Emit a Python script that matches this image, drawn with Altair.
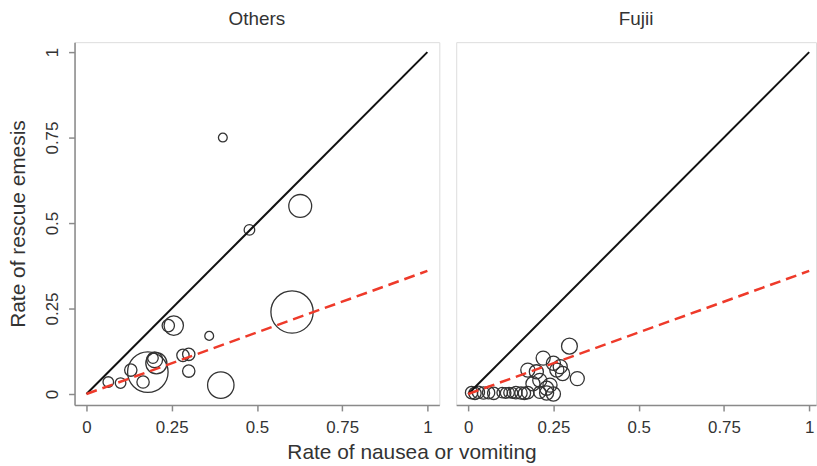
import altair as alt
import pandas as pd

# ---- data ----
others_x = [0.40, 0.478, 0.627, 0.603, 0.394, 0.36, 0.24, 0.256, 0.18, 0.195, 0.20, 0.205,
            0.13, 0.166, 0.10, 0.064, 0.283, 0.30, 0.30]
others_y = [0.75, 0.48, 0.55, 0.24, 0.026, 0.17, 0.20, 0.20, 0.064, 0.105, 0.10, 0.09,
            0.07, 0.035, 0.032, 0.035, 0.113, 0.116, 0.067]
others_n = [25, 36, 169, 576, 225, 25, 49, 121, 529, 36, 81, 144,
            49, 49, 36, 36, 49, 49, 49]

fujii_x = [0.01, 0.02, 0.03, 0.045, 0.06, 0.075, 0.10, 0.11, 0.12, 0.13, 0.14, 0.155,
           0.165, 0.175, 0.21, 0.23, 0.25,
           0.175, 0.20, 0.21, 0.22, 0.25, 0.24, 0.26, 0.277, 0.297, 0.32, 0.19, 0.23, 0.27]
fujii_y = [0.004, 0.002, 0.005, 0.003, 0.004, 0.002, 0.004, 0.003, 0.004, 0.003, 0.004, 0.003,
           0.002, 0.004, 0.005, 0.003, 0.0,
           0.07, 0.065, 0.04, 0.105, 0.09, 0.026, 0.07, 0.06, 0.14, 0.045, 0.03, 0.017, 0.08]
fujii_n = [49, 49, 49, 49, 49, 49, 36, 36, 36, 36, 49, 49,
           49, 49, 49, 64, 64,
           64, 64, 64, 64, 64, 64, 64, 64, 81, 64, 64, 64, 64]

identity_x = [0, 1]
identity_y = [0, 1]
fit_x = [0, 1]
fit_y = [0, 0.36]

tick_vals = [0, 0.25, 0.5, 0.75, 1]

FONT = "Liberation Sans"
TXT = "#333333"
AX = "#8a8a8a"

dom_left = [-0.035, 1.035]
dom_right = [-0.035, 1.02]
ydom = [-0.032, 1.029]

pts_others = pd.DataFrame({"x": others_x, "y": others_y, "n": others_n})
pts_fujii = pd.DataFrame({"x": fujii_x, "y": fujii_y, "n": fujii_n})
ident = pd.DataFrame({"x": identity_x, "y": identity_y})
fit = pd.DataFrame({"x": fit_x, "y": fit_y})


def panel(df, title, show_y, width, dom):
    xenc = alt.X("x:Q", scale=alt.Scale(domain=dom, nice=False, zero=False),
                 axis=alt.Axis(values=tick_vals, format=".2~f", title=None, grid=False,
                               domainColor=AX, tickColor=AX, tickSize=6,
                               labelFontSize=17, labelColor=TXT, labelFont=FONT,
                               labelPadding=9, domainWidth=1.5, tickWidth=1.5))
    if show_y:
        yaxis = alt.Axis(values=tick_vals, format=".2~f", title="Rate of rescue emesis",
                         grid=False, domainColor=AX, tickColor=AX, tickSize=6,
                         labelFontSize=17, labelColor=TXT, labelFont=FONT,
                         labelAngle=270, labelAlign="center", labelBaseline="bottom",
                         labelPadding=7, titleFontSize=21, titleFont=FONT,
                         titleColor=TXT, titleFontWeight="normal", titlePadding=15,
                         domainWidth=1.5, tickWidth=1.5)
    else:
        yaxis = None
    yenc = alt.Y("y:Q", scale=alt.Scale(domain=ydom, nice=False, zero=False), axis=yaxis)

    line1 = alt.Chart(ident).mark_line(color="#111111", strokeWidth=2).encode(x=xenc, y=yenc)
    line2 = alt.Chart(fit).mark_line(color="#ee3a2a", strokeWidth=2.5,
                                     strokeDash=[11, 6]).encode(x=xenc, y=yenc)
    circ = alt.Chart(df).mark_point(shape="circle", filled=False, color="#333333",
                                    strokeWidth=1.3, opacity=1).encode(
        x=xenc, y=yenc,
        size=alt.Size("n:Q", scale=alt.Scale(domain=[0, 600], range=[0, 1885]), legend=None))
    return alt.layer(circ, line1, line2).properties(
        width=width, height=365,
        title=alt.TitleParams(title, fontSize=19, font=FONT, color=TXT,
                              fontWeight="normal", anchor="middle", offset=13))


left = panel(pts_others, "Others", True, 367, dom_left)
right = panel(pts_fujii, "Fujii", False, 362, dom_right)

chart = alt.hconcat(left, right, spacing=15).properties(
    title=alt.TitleParams("Rate of nausea or vomiting", orient="bottom", anchor="middle",
                          fontSize=21, font=FONT, color=TXT, fontWeight="normal", offset=6),
    padding={"left": 7, "right": 0, "top": 8, "bottom": 0},
).configure_view(strokeWidth=0).configure(background="white")

chart.save("out.html", embed_options={"renderer": "svg", "actions": False})
